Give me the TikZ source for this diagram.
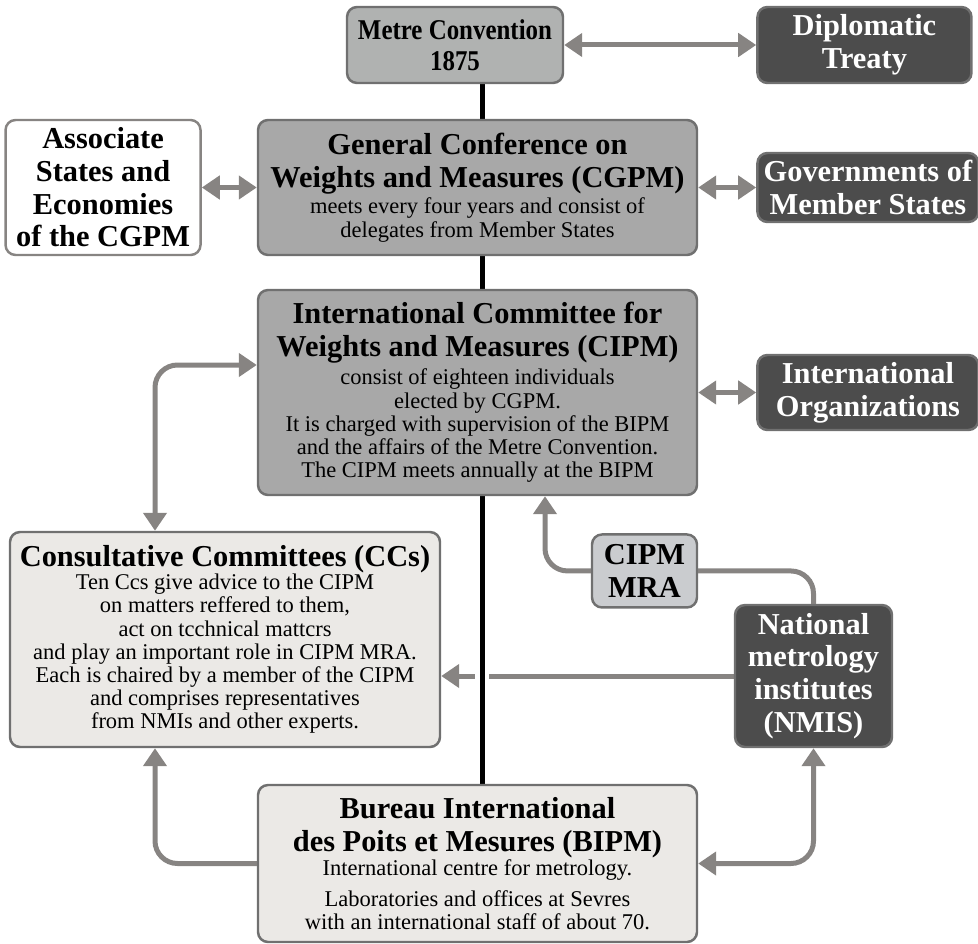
\documentclass[tikz,border=0pt]{standalone}
\usepackage{fontspec}
\setmainfont{Liberation Serif}
\newfontfamily\condserif{Liberation Serif}[FakeStretch=0.87]
\usepackage{tikz}
\usetikzlibrary{arrows.meta,positioning,calc,backgrounds}
\definecolor{myMetreGray}{RGB}{176,178,177}
\definecolor{myMidGray}{RGB}{168,168,168}
\definecolor{myDarkGray}{RGB}{76,76,76}
\definecolor{myPaleGray}{RGB}{235,233,230}
\definecolor{myMraGray}{RGB}{202,204,207}
\definecolor{myEdgeGray}{RGB}{112,112,112}
\definecolor{myArrowGray}{RGB}{135,132,130}
\newcommand{\headfont}{\fontsize{17.3}{18.6}\selectfont\bfseries}
\newcommand{\bodyfont}{\fontsize{12.8}{13.2}\selectfont}

\begin{document}
\begin{tikzpicture}[>={Triangle[length=0.36cm,width=0.46cm]}]
\tikzstyle{box}=[rectangle, rounded corners=0.2cm, draw=myEdgeGray, line width=1.4pt, inner sep=0pt, align=flush center]
\tikzstyle{gbox}=[box, fill=myMidGray]
\tikzstyle{dbox}=[box, fill=myDarkGray, text=white, font=\headfont]
\tikzstyle{pbox}=[box, fill=myPaleGray]
\tikzstyle{conn}=[draw=myArrowGray, line width=0.1cm, rounded corners=0.45cm]
\tikzstyle{spine}=[draw=black, line width=0.1cm, preaction={draw=white, line width=0.28cm}]
\useasboundingbox (0,0) rectangle (19.56,-18.88);
% main column
\node[gbox, fill=myMetreGray, text width=4.32cm, minimum height=1.52cm, font=\condserif\fontsize{16.3}{17.4}\selectfont\bfseries] (metre) at (9.10,-0.90) {Metre Convention\\1875};
\node[gbox, text width=8.78cm, minimum height=2.7cm] (cgpm) at (9.55,-3.75)
  {{\headfont General Conference on\\Weights and Measures (CGPM)\par}\vspace{2pt}
   {\bodyfont meets every four years and consist of\\delegates from Member States\par}};
\node[gbox, text width=8.78cm, minimum height=4.1cm] (cipm) at (9.55,-7.85)
  {{\headfont International Committee for\\Weights and Measures (CIPM)\par}\vspace{3pt}
   {\bodyfont consist of eighteen individuals\\elected by CGPM.\\It is charged with supervision of the BIPM\\and the affairs of the Metre Convention.\\The CIPM meets annually at the BIPM\par}};
\node[pbox, text width=8.6cm, minimum height=4.3cm] (cc) at (4.50,-12.79)
  {{\headfont Consultative Committees (CCs)\par}
   {\bodyfont Ten Ccs give advice to the CIPM\\on matters reffered to them,\\act on tcchnical mattcrs\\and play an important role in CIPM MRA.\\Each is chaired by a member of the CIPM\\and comprises representatives\\from NMIs and other experts.\par}};
\node[pbox, text width=8.78cm, minimum height=3.14cm] (bipm) at (9.55,-17.27)
  {{\headfont Bureau International\\des Poits et Mesures (BIPM)\par}\vspace{1pt}
   {\bodyfont International centre for metrology.\par\vspace{4pt}Laboratories and offices at Sevres\\with an international staff of about 70.\par}};
% side boxes
\node[dbox, right=3.84cm of metre, text width=4.28cm, minimum height=1.52cm] (treaty) {Diplomatic\\Treaty};
\node[box, fill=white, draw=myArrowGray, font=\headfont, left=1.1cm of cgpm, text width=3.9cm, minimum height=2.7cm] (assoc) {Associate\\States and\\Economies\\of the CGPM};
\node[dbox, right=1.16cm of cgpm, text width=4.42cm, minimum height=1.38cm] (govs) {Governments of\\Member States};
\node[dbox, right=1.16cm of cipm, text width=4.42cm, minimum height=1.5cm] (intorg) {International\\Organizations};
\node[box, fill=myMraGray, font=\headfont, below=0.74cm of cipm.south east, anchor=north east, text width=2.1cm, minimum height=1.46cm] (mra) {CIPM\\MRA};
\node[dbox, text width=3.14cm, minimum height=2.84cm] (nmis) at (16.27,-13.52) {National\\metrology\\institutes\\(NMIS)};
% connectors
\draw[conn, <->] (metre) -- (treaty);
\draw[conn, <->] (assoc) -- (cgpm);
\draw[conn, <->] (cgpm) -- (govs);
\draw[conn, <->] (intorg.west -| cipm.east) -- (intorg.west);
\draw[conn, <->] ([yshift=0.55cm]cipm.west) -| ([xshift=-1.4cm]cc.north);
\draw[conn, ->] (mra.west) -| ([xshift=1.35cm]cipm.south);
\draw[conn] (mra.east) -| (nmis.north);
\draw[conn, ->] (bipm.west) -| ([xshift=-1.4cm]cc.south);
\draw[conn, <->] (bipm.east) -| (nmis.south);
\coordinate (spinex) at (9.64,0);
\begin{scope}[on background layer]
\draw[conn, ->] (nmis.west) -- (nmis.west -| cc.east);
\draw[spine] (metre.south -| spinex) -- (bipm.north -| spinex);
\end{scope}
\end{tikzpicture}
\end{document}
